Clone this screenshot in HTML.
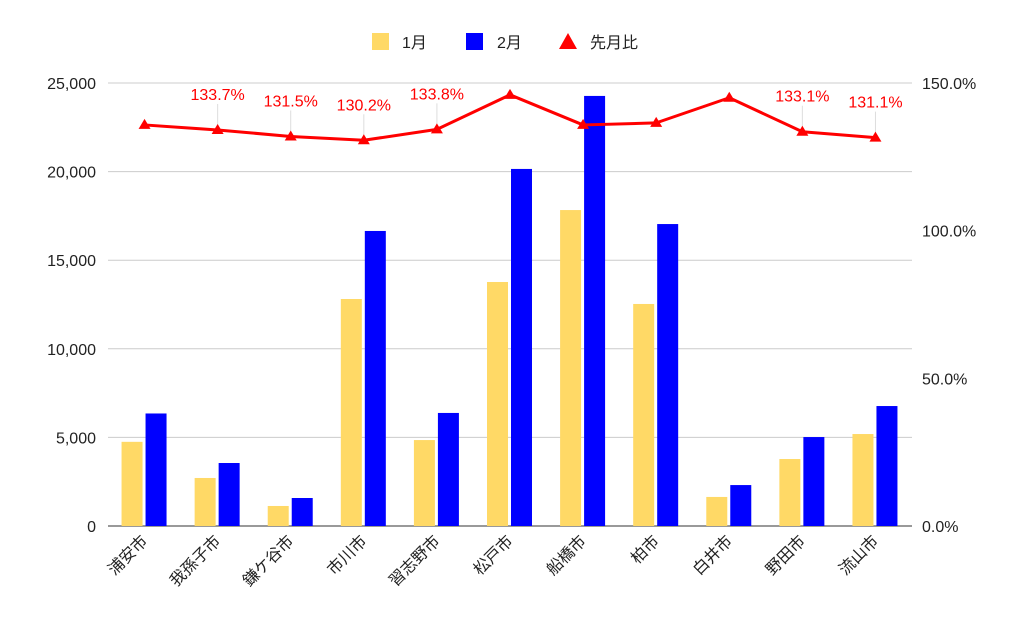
<!DOCTYPE html>
<html><head><meta charset="utf-8"><style>
body{margin:0;background:#fff;font-family:"Liberation Sans","Noto Sans CJK JP",sans-serif}
svg text{font-family:"Liberation Sans","Noto Sans CJK JP",sans-serif}
</style></head><body>
<svg id="c" width="1024" height="633">
<g>
<rect x="372" y="33" width="17" height="17" fill="#ffd966"/>
<text x="402" y="48" font-size="16" fill="#222">1月</text>
<rect x="466" y="33" width="17" height="17" fill="#0000ff"/>
<text x="497" y="48" font-size="16" fill="#222">2月</text>
<polygon points="568,33 577,49 559,49" fill="#ff0000"/>
<text x="590" y="48" font-size="16" fill="#222">先月比</text>
</g>
</svg>
<script>
const categories=["浦安市","我孫子市","鎌ケ谷市","市川市","習志野市","松戸市","船橋市","柏市","白井市","野田市","流山市"];
const jan=[4750,2710,1130,12810,4850,13770,17830,12530,1640,3780,5190];
const feb=[6350,3555,1580,16650,6380,20150,24270,17040,2310,5020,6770];
const ratio=[135.8,134.1,131.9,130.6,134.3,146.0,135.8,136.5,145.0,133.5,131.5];
const ratioLabels=["","133.7%","131.5%","130.2%","133.8%","","","","","133.1%","131.1%"];
const leftTicks=[0,5000,10000,15000,20000,25000];
const rightTicks=[0,50,100,150];
const svg=document.getElementById('c');const NS='http://www.w3.org/2000/svg';
const L=108,R=912,B=526,T=83;
const yL=v=>B-(v/25000)*(B-T);
const yR=v=>B-(v/150)*(B-T);
const cw=(R-L)/categories.length;
const cx=i=>L+cw*(i+0.5);
function mk(t,a,p){const e=document.createElementNS(NS,t);for(const k in a)e.setAttribute(k,a[k]);(p||svg).appendChild(e);return e;}
leftTicks.forEach((v,i)=>{
 const g=mk('line',{x1:L,x2:R,y1:yL(v),y2:yL(v),stroke:v===0?'#333':'#ccc','stroke-width':1});
 
 
 const t=mk('text',{x:L-12,y:yL(v)+6,'text-anchor':'end','font-size':16,fill:'#222'});
 t.textContent=v.toLocaleString('en-US');
 
 
});
rightTicks.forEach(v=>{
 const t=mk('text',{x:R+10,y:yR(v)+6,'font-size':16,fill:'#222'});
 t.textContent=v.toFixed(1)+'%';
 
 
});
categories.forEach((c,i)=>{
 const x=cx(i);
 const b1=mk('rect',{x:x-23,y:yL(jan[i]),width:21,height:B-yL(jan[i]),fill:'#ffd966'});
 
 
 const b2=mk('rect',{x:x+1,y:yL(feb[i]),width:21,height:B-yL(feb[i]),fill:'#0000ff'});
 
 
 const t=mk('text',{transform:`translate(${x+4},${B+16}) rotate(-45)`,'text-anchor':'end','font-size':16,fill:'#222'});
 t.textContent=c;
 
 
});
const pts=ratio.map((v,i)=>cx(i)+','+yR(v)).join(' ');
const pl=mk('polyline',{points:pts,fill:'none',stroke:'#ff0000','stroke-width':3,'stroke-linejoin':'round'});


ratio.forEach((v,i)=>{
 const x=cx(i),y=yR(v);
 if(ratioLabels[i]){
  const ln=mk('line',{x1:x,x2:x,y1:y-26,y2:y-3,stroke:'#ddd','stroke-width':1});
  
  
  const t=mk('text',{x:x,y:y-30,'text-anchor':'middle','font-size':16,fill:'#ff0000'});
  t.textContent=ratioLabels[i];
  
  
 }
 const m=mk('polygon',{points:`${x},${y-6} ${x+6},${y+4} ${x-6},${y+4}`,fill:'#ff0000'});
 
 
});
</script>
</body></html>
